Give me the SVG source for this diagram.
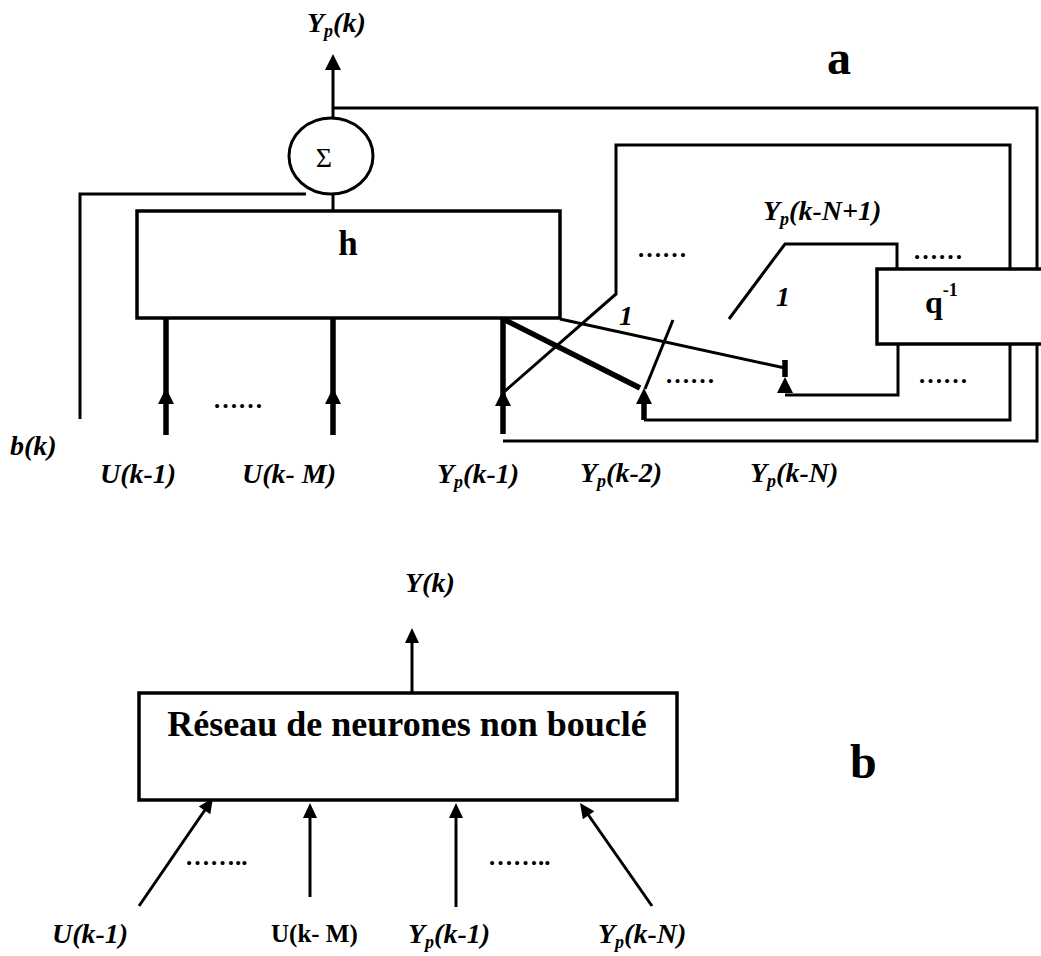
<svg xmlns="http://www.w3.org/2000/svg" width="1041" height="956" viewBox="0 0 1041 956">
<style>
.ln{fill:none;stroke:#000;stroke-width:3;stroke-linejoin:miter}
.thk{fill:none;stroke:#000;stroke-width:5.5}
.box{fill:#fff;stroke:#000;stroke-width:3.5}
.lbl{font-family:"Liberation Serif","Times New Roman",serif;font-weight:bold;font-style:italic;font-size:28px;fill:#000}
.sub{font-size:18px}
.dots{font-family:"Liberation Serif","Times New Roman",serif;font-weight:bold;font-size:25px;fill:#000}
.big{font-family:"Liberation Serif","Times New Roman",serif;font-weight:bold;font-size:48px;fill:#000}
.bold{font-family:"Liberation Serif","Times New Roman",serif;font-weight:bold;fill:#000}
</style>
<defs>
<polygon id="ahA" points="0,0 -8,16 8,16" fill="#000"/>
<polygon id="ahB" points="0,0 -7,15 7,15" fill="#000"/>
</defs>
<rect width="1041" height="956" fill="#fff"/>

<g id="connectors-a">
<line class="ln" x1="333" y1="68" x2="333" y2="118"/>
<use href="#ahA" x="333" y="54"/>
<polyline class="ln" points="333,108 1037,108 1037,270"/>
<polyline class="ln" points="1037,343 1037,441 503,441"/>
<line class="ln" x1="333" y1="194" x2="333" y2="211"/>
<polyline class="ln" points="80,419 80,194 306,194"/>
<line class="thk" x1="166" y1="318" x2="166" y2="435"/>
<use href="#ahA" x="166" y="388"/>
<line class="thk" x1="333" y1="318" x2="333" y2="435"/>
<use href="#ahA" x="333" y="388"/>
<line class="thk" x1="503" y1="318" x2="503" y2="434"/>
<use href="#ahA" x="503" y="390"/>
<line class="thk" x1="503" y1="319" x2="640" y2="388"/>
<polyline class="ln" points="505,391 616,294 616,145 1010,145 1010,270"/>
<line class="thk" x1="644" y1="398" x2="644" y2="420"/>
<polyline class="ln" points="644,420 1010,420 1010,343"/>
<use href="#ahA" x="644" y="388"/>
<line class="ln" x1="673" y1="320" x2="645" y2="389"/>
<polyline class="ln" points="729,319 785,244 897,244 897,270"/>
<polyline class="ln" points="785,395 898,395 898,343"/>
<line class="ln" x1="560" y1="319" x2="785" y2="368"/>
<line class="thk" x1="785" y1="360" x2="785" y2="377"/>
<use href="#ahA" x="785" y="377"/>
</g>

<g id="sum">
<ellipse cx="331" cy="156" rx="42" ry="38" fill="#fff" stroke="#000" stroke-width="3"/>
<text x="324" y="167" text-anchor="middle" font-family="Liberation Serif, Times New Roman, serif" font-size="28">Σ</text>
</g>

<g id="h-box">
<rect class="box" x="137" y="211" width="423" height="107"/>
<text class="bold" x="348" y="255" text-anchor="middle" font-size="35">h</text>
</g>

<g id="delay-box">
<rect class="box" x="877" y="269" width="180" height="75"/>
<text class="bold" x="925" y="313" font-size="32">q<tspan font-size="18" dy="-17">-1</tspan></text>
</g>

<g id="labels-a">
<text class="lbl" x="307" y="32">Y<tspan class="sub" dy="5">p</tspan><tspan dy="-5">(k)</tspan></text>
<text class="big" x="827" y="74">a</text>
<text class="lbl" x="763" y="220">Y<tspan class="sub" dy="5">p</tspan><tspan dy="-5">(k-N+1)</tspan></text>
<text class="lbl" x="619" y="325">1</text>
<text class="lbl" x="776" y="306">1</text>
<text class="dots" x="637" y="257">……</text>
<text class="dots" x="913" y="259">……</text>
<text class="dots" x="665" y="383">……</text>
<text class="dots" x="918" y="383">……</text>
<text class="dots" x="213" y="408">……</text>
<text class="lbl" x="10" y="455">b(k)</text>
<text class="lbl" x="100" y="483">U(k-1)</text>
<text class="lbl" x="242" y="483">U(k- M)</text>
<text class="lbl" x="437" y="483">Y<tspan class="sub" dy="5">p</tspan><tspan dy="-5">(k-1)</tspan></text>
<text class="lbl" x="580" y="482">Y<tspan class="sub" dy="5">p</tspan><tspan dy="-5">(k-2)</tspan></text>
<text class="lbl" x="750" y="482">Y<tspan class="sub" dy="5">p</tspan><tspan dy="-5">(k-N)</tspan></text>
</g>

<g id="connectors-b">
<line class="ln" x1="412" y1="641" x2="412" y2="693" stroke-width="3.5"/>
<use href="#ahB" x="412" y="628"/>
<line class="ln" x1="139" y1="906" x2="207" y2="807" stroke-width="4"/>
<use href="#ahB" transform="translate(213,798) rotate(34.4)"/>
<line class="ln" x1="310" y1="897" x2="310" y2="815" stroke-width="4"/>
<use href="#ahB" x="310" y="803"/>
<line class="ln" x1="456" y1="907" x2="456" y2="815" stroke-width="4"/>
<use href="#ahB" x="456" y="803"/>
<line class="ln" x1="652" y1="906" x2="587" y2="813" stroke-width="4"/>
<use href="#ahB" transform="translate(580,803) rotate(-35)"/>
</g>

<g id="network-box">
<rect class="box" x="139" y="693" width="538" height="107"/>
<text class="bold" x="407" y="736" text-anchor="middle" font-size="36">Réseau de neurones non bouclé</text>
</g>

<g id="labels-b">
<text class="lbl" x="405" y="592" font-size="26">Y(k)</text>
<text class="big" x="850" y="778">b</text>
<text class="dots" x="185" y="865" font-size="27">……..</text>
<text class="dots" x="488" y="865" font-size="27">……..</text>
<text class="lbl" x="52" y="943">U(k-1)</text>
<text class="bold" x="271" y="942" font-size="25">U(k- M)</text>
<text class="lbl" x="408" y="943">Y<tspan class="sub" dy="5">p</tspan><tspan dy="-5">(k-1)</tspan></text>
<text class="lbl" x="598" y="943">Y<tspan class="sub" dy="5">p</tspan><tspan dy="-5">(k-N)</tspan></text>
</g>
</svg>
